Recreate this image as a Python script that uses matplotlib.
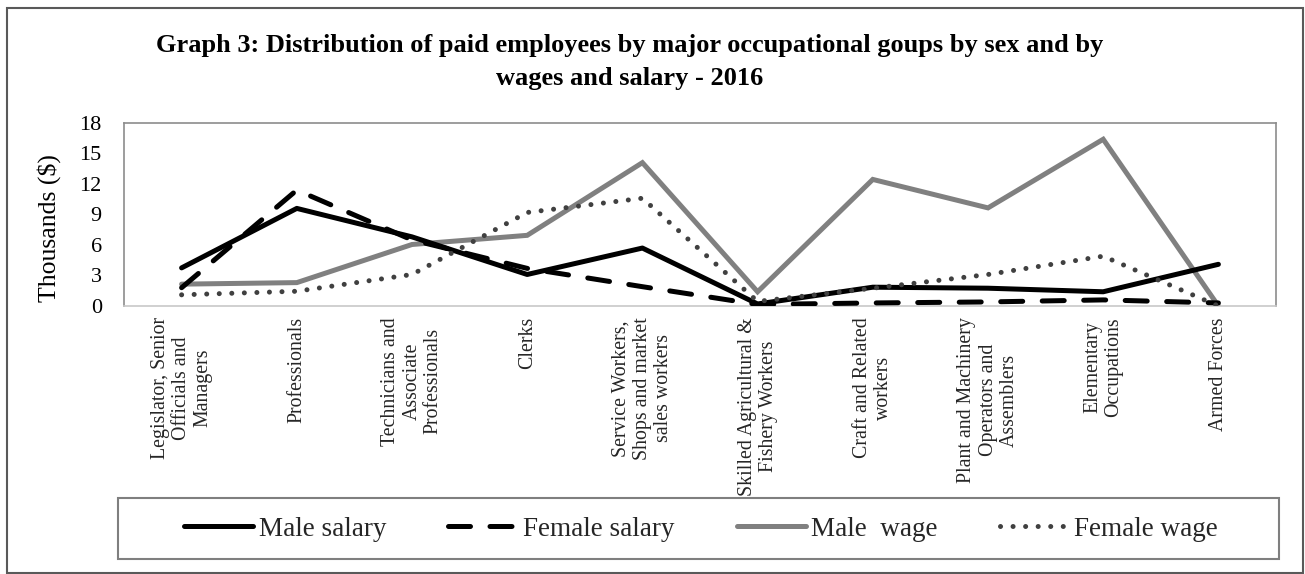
import numpy as np
import matplotlib
matplotlib.use("Agg")
import matplotlib.pyplot as plt
from matplotlib.patches import Rectangle

categories = [
    "Legislator, Senior\nOfficials and\nManagers",
    "Professionals",
    "Technicians and\nAssociate\nProfessionals",
    "Clerks",
    "Service Workers,\nShops and market\nsales workers",
    "Skilled Agricultural &\nFishery Workers",
    "Craft and Related\nworkers",
    "Plant and Machinery\nOperators and\nAssemblers",
    "Elementary\nOccupations",
    "Armed Forces",
]

male_salary = [3.75, 9.6, 6.8, 3.1, 5.7, 0.2, 1.85, 1.75, 1.4, 4.1]
female_salary = [1.8, 11.4, 6.5, 3.7, 1.9, 0.15, 0.3, 0.4, 0.6, 0.3]
male_wage = [2.15, 2.3, 6.05, 6.95, 14.1, 1.4, 12.45, 9.65, 16.4, 0.0]
female_wage = [1.1, 1.45, 3.1, 9.2, 10.6, 0.45, 1.75, 3.1, 4.9, 0.0]

y_ticks = [0, 3, 6, 9, 12, 15, 18]

plt.rcParams['font.family'] = ['Liberation Serif', 'DejaVu Serif']

W, H = 1305, 574
fig = plt.figure(figsize=(W / 100, H / 100), dpi=100)
ax = fig.add_axes([124 / W, 1 - 306 / H, (1276 - 124) / W, (306 - 123) / H])

x = np.arange(len(categories))
lw = 3.6
ax.plot(x, male_salary, color='black', lw=lw, solid_capstyle='round',
        solid_joinstyle='round', label='Male salary', zorder=4)
ax.plot(x, female_salary, color='black', lw=lw, dashes=(4.4, 3.9),
        dash_capstyle='round', label='Female salary', zorder=3)
ax.plot(x, male_wage, color='#808080', lw=lw, solid_capstyle='round',
        solid_joinstyle='miter', label='Male  wage', zorder=2)
ax.plot(x, female_wage, color='#404040', lw=lw, dashes=(0.01, 2.5),
        dash_capstyle='round', label='Female wage', zorder=5)

ax.set_xlim(-0.5, len(categories) - 0.5)
ax.set_ylim(0, 18)
ax.set_yticks(y_ticks)
ax.set_yticklabels([str(t) for t in y_ticks], fontsize=16)
ax.set_xticks(x)
ax.set_xticklabels(categories, rotation=90, fontsize=14.3, color='#262626',
                   linespacing=1.15)
ax.tick_params(axis='x', length=0, pad=8)
ax.tick_params(axis='y', length=0, pad=16)

for side in ['top', 'left', 'right']:
    ax.spines[side].set_color('#8c8c8c')
    ax.spines[side].set_linewidth(1.2)
ax.spines['bottom'].set_color('#c8c8c8')
ax.spines['bottom'].set_linewidth(1.2)

fig.text(49 / W, 1 - 228 / H, "Thousands ($)", rotation=90, ha='center',
         va='center', fontsize=18.5)

fig.text(630 / W, 1 - 62 / H,
         "Graph 3: Distribution of paid employees by major occupational goups by sex and by\nwages and salary - 2016",
         ha='center', va='center', fontsize=19, fontweight='bold',
         linespacing=1.55)

# legend box
fig.patches.append(Rectangle((118 / W, 1 - 559 / H), (1279 - 118) / W, 61 / H,
                             transform=fig.transFigure, fill=False,
                             edgecolor='#7f7f7f', lw=1.5))
handles, labels = ax.get_legend_handles_labels()
fig.legend(handles, labels, loc='center',
           bbox_to_anchor=((118 + 1279) / 2 / W + 0.002, 1 - 529 / H),
           ncol=4, frameon=False, fontsize=19.5, handlelength=2.55,
           handletextpad=0.2, columnspacing=2.3, labelcolor='#262626')

# outer border
fig.patches.append(Rectangle((7 / W, 1 - 573 / H), (1303 - 7) / W, (573 - 8) / H,
                             transform=fig.transFigure, fill=False,
                             edgecolor='#595959', lw=1.5))

fig.savefig("out.png", dpi=100)
